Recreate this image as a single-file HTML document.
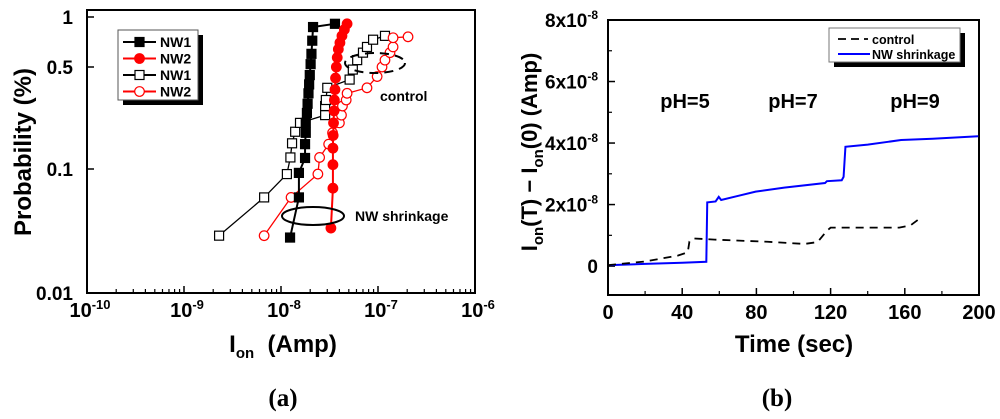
<!DOCTYPE html>
<html><head><meta charset="utf-8"><style>
html,body{margin:0;padding:0;background:#fff;width:1000px;height:419px;overflow:hidden}
svg{display:block;font-family:"Liberation Sans",Arial,sans-serif}
</style></head><body>
<svg id="fig" width="1000" height="419" viewBox="0 0 1000 419" xmlns="http://www.w3.org/2000/svg">
<g id="a"></g>
<g id="b"></g>
</svg>
<script>
// ---------- Panel (a) data ----------
const aXTicks = [-10, -9, -8, -7, -6];
const aYTicks = [1, 0.5, 0.1, 0.01];
const aYTickLabels = ["1", "0.5", "0.1", "0.01"];
const nw1FilledI = [1.24e-8,1.53e-8,1.53e-8,1.77e-8,1.77e-8,1.8e-8,1.8e-8,1.85e-8,1.88e-8,1.92e-8,1.95e-8,1.98e-8,2.02e-8,2.06e-8,2.1e-8,2.14e-8,3.6e-8];
const nw1FilledP = [0.028,0.059,0.093,0.119,0.148,0.177,0.207,0.242,0.28,0.33,0.38,0.44,0.52,0.6,0.72,0.87,0.91];
const nw2FilledI = [3.27e-8,3.43e-8,3.43e-8,3.43e-8,3.45e-8,3.48e-8,3.52e-8,3.55e-8,3.6e-8,3.65e-8,3.72e-8,3.8e-8,3.9e-8,4.05e-8,4.25e-8,4.5e-8,4.8e-8];
const nw2FilledP = [0.0334,0.07,0.107,0.139,0.17,0.207,0.25,0.297,0.35,0.42,0.5,0.57,0.64,0.7,0.77,0.84,0.91];
const nw1OpenI = [2.3e-9,6.7e-9,1.15e-8,1.25e-8,1.3e-8,1.4e-8,1.57e-8,2.85e-8,2.85e-8,2.9e-8,3.0e-8,5.1e-8,5.5e-8,6.1e-8,7.0e-8,7.7e-8,8.9e-8,1.18e-7];
const nw1OpenP = [0.029,0.059,0.091,0.12,0.15,0.18,0.207,0.234,0.27,0.297,0.36,0.41,0.48,0.55,0.61,0.66,0.73,0.77];
const nw2OpenI = [6.7e-9,1.27e-8,2.4e-8,2.5e-8,3.1e-8,3.4e-8,4.0e-8,4.2e-8,4.3e-8,4.7e-8,4.8e-8,7.7e-8,9.8e-8,1.1e-7,1.18e-7,1.33e-7,1.43e-7,1.43e-7,2.04e-7];
const nw2OpenP = [0.029,0.059,0.091,0.12,0.148,0.177,0.207,0.234,0.27,0.297,0.33,0.36,0.43,0.5,0.55,0.61,0.66,0.75,0.76];

// ---------- Panel (b) data ----------
const bXTicks = [0,40,80,120,160,200];
const bYTicks = [0,2e-8,4e-8,6e-8,8e-8];
const bYTickMant = ["0","2","4","6","8"];
const shrinkT = [1,20,40,53,53.5,58,59.7,61,70,79.6,95,117,118,126,127,128,140,151,158,175,199.6];
const shrinkV = [0.03e-8,0.07e-8,0.11e-8,0.14e-8,2.07e-8,2.1e-8,2.25e-8,2.15e-8,2.28e-8,2.42e-8,2.55e-8,2.7e-8,2.76e-8,2.79e-8,2.9e-8,3.88e-8,3.95e-8,4.04e-8,4.1e-8,4.14e-8,4.22e-8];
const controlT = [0,20,37.6,43,43.9,46,57.5,86,106,113,118,120,157,163,167];
const controlV = [0.03e-8,0.15e-8,0.34e-8,0.45e-8,0.8e-8,0.9e-8,0.86e-8,0.79e-8,0.72e-8,0.78e-8,1.15e-8,1.25e-8,1.25e-8,1.32e-8,1.5e-8];

const NS="http://www.w3.org/2000/svg";
function mk(parent, tag, attrs, text){
  const e=document.createElementNS(NS,tag);
  for(const k in attrs) e.setAttribute(k,attrs[k]);
  if(text!==undefined) e.textContent=text;
  parent.appendChild(e); return e;
}
// ---- Panel (a) scales ----
const aL=87,aR=475,aT=10,aB=293;
function ax(I){return aL+(Math.log10(I)+10)/4*(aR-aL);}
const ypTicksP=[1,0.5,0.1,0.01], ypTicksY=[17,67,169,293];
function ay(p){
  const lp=Math.log10(p);
  for(let i=0;i<ypTicksP.length-1;i++){
    const a=Math.log10(ypTicksP[i]),b=Math.log10(ypTicksP[i+1]);
    if(lp<=a&&lp>=b){return ypTicksY[i]+(a-lp)/(a-b)*(ypTicksY[i+1]-ypTicksY[i]);}
  }
  return lp>0?ypTicksY[0]:ypTicksY[3];
}
const A=document.getElementById('a');
let r=mk(A,'rect',{x:aL,y:aT,width:aR-aL,height:aB-aT,fill:'none',stroke:'#000','stroke-width':2});


aXTicks.forEach((d,i)=>{
  const x=ax(Math.pow(10,d));
  let t=mk(A,'line',{x1:x,y1:aB,x2:x,y2:aB-7,stroke:'#000','stroke-width':1.5});
  
  
  if(i<aXTicks.length-1){for(let m=2;m<=9;m++){const xm=ax(m*Math.pow(10,d));
    let tm=mk(A,'line',{x1:xm,y1:aB,x2:xm,y2:aB-4,stroke:'#000','stroke-width':1.2});
    
    }}
  let tx=mk(A,'text',{x:x+3,y:aB+24,'text-anchor':'middle','font-size':20,'font-weight':'bold'});
  
  
  mk(tx,'tspan',{},'10');
  mk(tx,'tspan',{'font-size':13,dy:-8},String(d));
});
aYTicks.forEach((p,i)=>{
  const y=ay(p);
  let t=mk(A,'line',{x1:aL,y1:y,x2:aL+7,y2:y,stroke:'#000','stroke-width':1.5});
  
  
  let tx=mk(A,'text',{x:aL-14,y:y+7,'text-anchor':'end','font-size':19,'font-weight':'bold'},aYTickLabels[i]);
  
  
});
function series(g,I,P,color,filled,shape,name){
  const pts=I.map((v,i)=>ax(v)+','+ay(P[i])).join(' ');
  let pl=mk(g,'polyline',{points:pts,fill:'none',stroke:color,'stroke-width':filled?2:1.3});
  
  
  I.forEach((v,i)=>{
    const x=ax(v),y=ay(P[i]);let m;
    if(shape==='sq') m=mk(g,'rect',{x:x-4.5,y:y-4.5,width:9,height:9,fill:filled?color:'#fff',stroke:color,'stroke-width':1.2});
    else m=mk(g,'circle',{cx:x,cy:y,r:4.8,fill:filled?color:'#fff',stroke:color,'stroke-width':1.2});
    
    
  });
}
series(A,nw1OpenI,nw1OpenP,'#000',false,'sq','nw1-control');
series(A,nw2OpenI,nw2OpenP,'#f00',false,'ci','nw2-control');
series(A,nw1FilledI,nw1FilledP,'#000',true,'sq','nw1-shrinkage');
series(A,nw2FilledI,nw2FilledP,'#f00',true,'ci','nw2-shrinkage');
let e1=mk(A,'ellipse',{cx:313,cy:216,rx:31,ry:9,fill:'none',stroke:'#000','stroke-width':2});


let e2=mk(A,'ellipse',{cx:375,cy:63,rx:30,ry:10,fill:'none',stroke:'#000','stroke-width':2,'stroke-dasharray':'9,6'});


let l1=mk(A,'text',{x:355,y:221,'font-size':14,'font-weight':'bold'},'NW shrinkage');


let l2=mk(A,'text',{x:380,y:101,'font-size':14,'font-weight':'bold'},'control');


// legend a
let lg=mk(A,'g',{});


mk(lg,'rect',{x:123,y:35,width:80,height:70,fill:'#000'});
mk(lg,'rect',{x:118,y:30,width:80,height:70,fill:'#fff',stroke:'#555','stroke-width':1});
const legLab=['NW1','NW2','NW1','NW2'],legCol=['#000','#f00','#000','#f00'],legFill=[true,true,false,false],legShape=['sq','ci','sq','ci'];
legLab.forEach((s,i)=>{
  const y=42+i*16.5;
  let en=mk(lg,'g',{});
  
  
  mk(en,'line',{x1:123,y1:y,x2:156,y2:y,stroke:legCol[i],'stroke-width':2});
  if(legShape[i]==='sq') mk(en,'rect',{x:135,y:y-4.5,width:9,height:9,fill:legFill[i]?legCol[i]:'#fff',stroke:legCol[i],'stroke-width':1.2});
  else mk(en,'circle',{cx:139.5,cy:y,r:4.8,fill:legFill[i]?legCol[i]:'#fff',stroke:legCol[i],'stroke-width':1.2});
  mk(en,'text',{x:160,y:y+5,'font-size':14,'font-weight':'bold'},s);
});
let yt=mk(A,'text',{x:0,y:0,'font-size':24,'font-weight':'bold','text-anchor':'middle',transform:'translate(31,152) rotate(-90)'},'Probability (%)');


let xt=mk(A,'text',{x:283,y:352,'font-size':24,'font-weight':'bold','text-anchor':'middle'});


mk(xt,'tspan',{},'I');mk(xt,'tspan',{'font-size':15,dy:6},'on');mk(xt,'tspan',{dy:-6},'\u00a0 (Amp)');
let ca=mk(A,'text',{x:283,y:406,'font-size':25,'font-weight':'bold','text-anchor':'middle','font-family':'Liberation Serif, serif'},'(a)');



// ---- Panel (b) ----
const bL=608,bR=979,bT=20,bB=295,yMin=-0.94e-8,yMax=8e-8;
function bx(t){return bL+t/200*(bR-bL);}
function by(v){return bB-(v-yMin)/(yMax-yMin)*(bB-bT);}
const B=document.getElementById('b');
let rb=mk(B,'rect',{x:bL,y:bT,width:bR-bL,height:bB-bT,fill:'none',stroke:'#000','stroke-width':2});


bXTicks.forEach(t=>{
  const x=bx(t);
  let tk=mk(B,'line',{x1:x,y1:bB,x2:x,y2:bB-7,stroke:'#000','stroke-width':1.5});
  
  
  if(t<200){let tm=mk(B,'line',{x1:bx(t+20),y1:bB,x2:bx(t+20),y2:bB-4,stroke:'#000','stroke-width':1.2});
    
    }
  let tx=mk(B,'text',{x:x,y:bB+24,'text-anchor':'middle','font-size':20,'font-weight':'bold'},String(t));
  
  
});
bYTicks.forEach((v,i)=>{
  const y=by(v);
  let tk=mk(B,'line',{x1:bL,y1:y,x2:bL+7,y2:y,stroke:'#000','stroke-width':1.5});
  
  
  let tm=mk(B,'line',{x1:bL,y1:by(v+1e-8),x2:bL+4,y2:by(v+1e-8),stroke:'#000','stroke-width':1.2});
  
  
  let tx=mk(B,'text',{x:bL-10,y:y+7,'text-anchor':'end','font-size':19,'font-weight':'bold'});
  
  
  if(v===0){tx.textContent='0';}
  else{mk(tx,'tspan',{},bYTickMant[i]+'x10');mk(tx,'tspan',{'font-size':12,dy:-8},'-8');}
});
let sp=mk(B,'polyline',{points:shrinkT.map((t,i)=>bx(t)+','+by(shrinkV[i])).join(' '),fill:'none',stroke:'#00f','stroke-width':2});


let cp=mk(B,'polyline',{points:controlT.map((t,i)=>bx(t)+','+by(controlV[i])).join(' '),fill:'none',stroke:'#000','stroke-width':1.8,'stroke-dasharray':'8,6'});


[['pH=5',685],['pH=7',793],['pH=9',915]].forEach(p=>{
  let t=mk(B,'text',{x:p[1],y:108,'text-anchor':'middle','font-size':20,'font-weight':'bold'},p[0]);
  
  
});
let lb=mk(B,'g',{});


mk(lb,'rect',{x:834,y:33,width:131,height:34,fill:'#000'});
mk(lb,'rect',{x:829,y:28,width:131,height:34,fill:'#fff',stroke:'#777','stroke-width':1});
let le1=mk(lb,'g',{});


mk(le1,'line',{x1:838,y1:39,x2:868,y2:39,stroke:'#000','stroke-width':1.8,'stroke-dasharray':'8,5'});
mk(le1,'text',{x:872,y:44,'font-size':12.5,'font-weight':'bold'},'control');
let le2=mk(lb,'g',{});


mk(le2,'line',{x1:838,y1:54,x2:870,y2:54,stroke:'#00f','stroke-width':2});
mk(le2,'text',{x:872,y:59,'font-size':12.5,'font-weight':'bold'},'NW shrinkage');
let yb=mk(B,'text',{x:0,y:0,'font-size':22,'font-weight':'bold','text-anchor':'middle',transform:'translate(537,152) rotate(-90)'});


mk(yb,'tspan',{},'I');mk(yb,'tspan',{'font-size':15,dy:6},'on');mk(yb,'tspan',{dy:-6},'(T) \u2212 I');
mk(yb,'tspan',{'font-size':15,dy:6},'on');mk(yb,'tspan',{dy:-6},'(0) (Amp)');
let xb=mk(B,'text',{x:794,y:352,'font-size':24,'font-weight':'bold','text-anchor':'middle'},'Time (sec)');


let cb=mk(B,'text',{x:777,y:406,'font-size':25,'font-weight':'bold','text-anchor':'middle','font-family':'Liberation Serif, serif'},'(b)');


</script>
</body></html>
